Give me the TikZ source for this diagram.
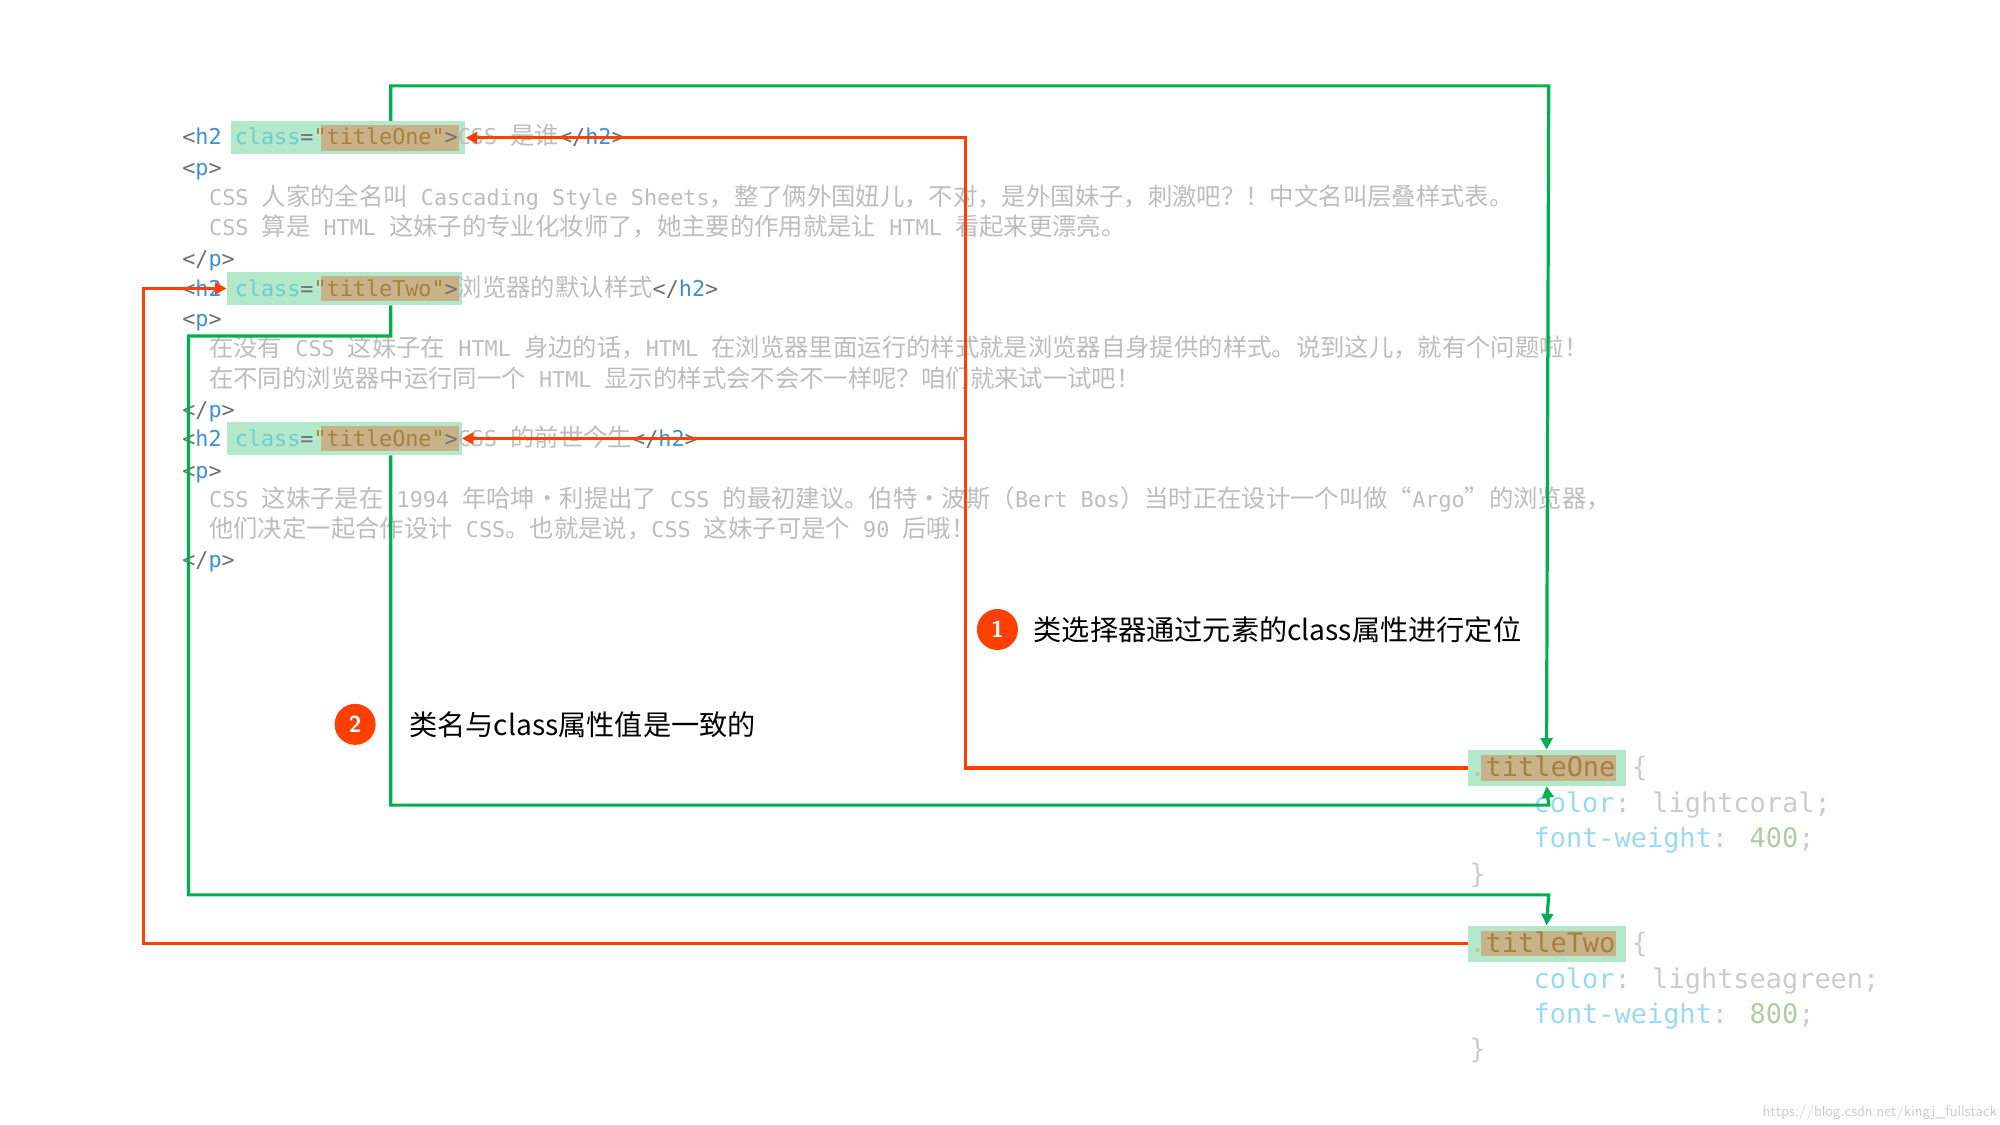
\documentclass[tikz,border=0pt]{standalone}
\usepackage{fontspec}
\usetikzlibrary{arrows.meta,calc}
\newfontfamily\codefont{DejaVu Sans Mono}
\newfontfamily\zhfont{Noto Sans CJK SC}
\definecolor{boxg}{HTML}{B3E8CA}
\definecolor{brn}{HTML}{C8B28A}
\definecolor{brt}{HTML}{A8803E}
\definecolor{tagc}{HTML}{707070}
\definecolor{blu}{HTML}{3D8FD6}
\definecolor{tea}{HTML}{6CCFCF}
\definecolor{gry}{HTML}{BDBDBD}
\definecolor{lgry}{HTML}{CCCCCC}
\definecolor{prop}{HTML}{9AD8F7}
\definecolor{num}{HTML}{B2CCA0}
\definecolor{redc}{HTML}{FF4000}
\definecolor{grnc}{HTML}{00B050}
\newcommand\zh[1]{{\zhfont\fontsize{19}{20}\selectfont #1}}
\newcommand\tgc[1]{\textcolor{tagc}{#1}}
\newcommand\tgb[1]{\textcolor{blu}{#1}}
\newcommand\tgl[1]{\textcolor{tea}{#1}}
\newcommand\tgt[1]{\textcolor{brt}{#1}}
\tikzset{
 code/.style={font=\codefont\fontsize{17}{20}\selectfont, inner sep=0, anchor=base west, text=gry},
 css/.style={font=\codefont\fontsize{21}{24}\selectfont, inner sep=0, anchor=base west},
 gbox/.style={fill=boxg, inner sep=0, draw=none},
 bbox/.style={fill=brn, inner sep=0, draw=none},
 rline/.style={draw=redc, line width=2.5pt},
 gline/.style={draw=grnc, line width=2.5pt},
 tip/.style={-{Triangle[length=9pt,width=9pt]}},
 callnum/.style={circle, fill=redc, text=white, minimum size=32pt, inner sep=0, font=\sffamily\bfseries\fontsize{18}{18}\selectfont},
 calltxt/.style={anchor=west, inner sep=0, font=\zhfont\fontsize{22}{24}\selectfont}
}
\begin{document}
\begin{tikzpicture}[x=1pt,y=-1pt]
\useasboundingbox[fill=white] (0,0) rectangle (1560,877.5);
% boxes
\node[gbox, minimum width=183pt, minimum height=26pt] (b1) at (271.5,107.5) {};
\node[bbox, minimum width=108pt, minimum height=20pt] (br1) at (304,107.5) {};
\node[gbox, minimum width=183pt, minimum height=26pt] (b2) at (268.5,225) {};
\node[bbox, minimum width=108pt, minimum height=20pt] (br2) at (304,225) {};
\node[gbox, minimum width=183pt, minimum height=26pt] (b3) at (268.5,342) {};
\node[bbox, minimum width=108pt, minimum height=20pt] (br3) at (304,342) {};
\node[gbox, minimum width=123pt, minimum height=28pt] (c1) at (1206.5,599) {};
\node[bbox, minimum width=105pt, minimum height=20pt] (cb1) at (1208,599) {};
\node[gbox, minimum width=123pt, minimum height=28pt] (c2) at (1206.5,736) {};
\node[bbox, minimum width=105pt, minimum height=20pt] (cb2) at (1208,736) {};
% code text
\node[code] (l1) at (142,113) {\tgc{<}\tgb{h2} \tgl{class}\tgc{=}\tgt{"titleOne"}\tgc{>}CSS \zh{是谁}\tgc{</}\tgb{h2}\tgc{>}};
\node[code] (l2) at (142,137) {\tgc{<}\tgb{p}\tgc{>}};
\node[code] (l3) at (163,160) {CSS \zh{人家的全名叫} Cascading Style Sheets\zh{，整了俩外国妞儿，不对，是外国妹子，刺激吧？！}\zh{中文名叫层叠样式表。}};
\node[code] (l4) at (163,184) {CSS \zh{算是} HTML \zh{这妹子的专业化妆师了，她主要的作用就是让} HTML \zh{看起来更漂亮。}};
\node[code] (l5) at (142,208) {\tgc{</}\tgb{p}\tgc{>}};
\node[code] (l6) at (142,231) {\tgc{<}\tgb{h2} \tgl{class}\tgc{=}\tgt{"titleTwo"}\tgc{>}\zh{浏览器的默认样式}\tgc{</}\tgb{h2}\tgc{>}};
\node[code] (l7) at (142,255) {\tgc{<}\tgb{p}\tgc{>}};
\node[code] (l8) at (163,278) {\zh{在没有} CSS \zh{这妹子在} HTML \zh{身边的话，}HTML \zh{在浏览器里面运行的样式就是浏览器自身提供的样式。说到这儿，就有个问题啦！}};
\node[code] (l9) at (163,302) {\zh{在不同的浏览器中运行同一个} HTML \zh{显示的样式会不会不一样呢？咱们就来试一试吧！}};
\node[code] (l10) at (142,326) {\tgc{</}\tgb{p}\tgc{>}};
\node[code] (l11) at (142,348) {\tgc{<}\tgb{h2} \tgl{class}\tgc{=}\tgt{"titleOne"}\tgc{>}CSS \zh{的前世今生}\tgc{</}\tgb{h2}\tgc{>}};
\node[code] (l12) at (142,373) {\tgc{<}\tgb{p}\tgc{>}};
\node[code] (l13) at (163,396) {CSS \zh{这妹子是在} 1994 \zh{年哈坤·利提出了} CSS \zh{的最初建议。伯特·波斯（}Bert Bos\zh{）}\zh{当时正在设计一个叫做“}Argo\zh{”的浏览器，}};
\node[code] (l14) at (163,419) {\zh{他们决定一起合作设计} CSS\zh{。也就是说，}CSS \zh{这妹子可是个} 90 \zh{后哦！}};
\node[code] (l15) at (142,443) {\tgc{</}\tgb{p}\tgc{>}};
% css text
\node[css] (s1) at (1146,606) {\textcolor{num}{.}\textcolor{brt}{titleOne} \textcolor{lgry}{\{}};
\node[css] (s2) at (1196,634) {\textcolor{prop}{color}\textcolor{lgry}{: lightcoral;}};
\node[css] (s3) at (1196,661) {\textcolor{prop}{font-weight}\textcolor{lgry}{: }\textcolor{num}{400}\textcolor{lgry}{;}};
\node[css] (s4) at (1146,689) {\textcolor{lgry}{\}}};
\node[css] (t1) at (1146,743) {\textcolor{num}{.}\textcolor{brt}{titleTwo} \textcolor{lgry}{\{}};
\node[css] (t2) at (1196,771) {\textcolor{prop}{color}\textcolor{lgry}{: lightseagreen;}};
\node[css] (t3) at (1196,798) {\textcolor{prop}{font-weight}\textcolor{lgry}{: }\textcolor{num}{800}\textcolor{lgry}{;}};
\node[css] (t4) at (1146,826) {\textcolor{lgry}{\}}};
% connectors
\coordinate (g1a) at ($(b1.north west)+(125,0)$);
\coordinate (g2a) at ($(b2.south west)+(128,0)$);
\coordinate (g3a) at ($(b3.south west)+(128,0)$);
\draw[gline,tip] (g1a) -- (g1a |- 0,67) -- (1208,67) -- ($(c1.north west)+(61.5,0)$);
\draw[rline,tip] (c1.west) -- (753,599) -- (753,107.5) -- (b1.east);
\draw[rline,tip] (753,342) -- (b3.east);
\draw[gline,tip] (g3a) -- (g3a |- 0,628) -- (1208,628) -- ($(c1.south west)+(61.5,0)$);
\draw[gline,tip] (g2a) -- (g2a |- 0,262) -- (147,262) -- (147,698) -- (1208,698) -- ($(c2.north west)+(61.5,0)$);
\draw[rline,tip] (c2.west) -- (112,736) -- (112,225) -- (b2.west);
% callouts
\node[callnum] (n1) at (778,491) {1};
\node[calltxt] (k1) at (806,491) {类选择器通过元素的class属性进行定位};
\node[callnum] (n2) at (277,565) {2};
\node[calltxt] (k2) at (319,565) {类名与class属性值是一致的};
\node[anchor=south east, inner sep=0, text=lgry, font=\sffamily\fontsize{12}{12}\selectfont] (wm) at (1558,874) {https://blog.csdn.net/kingj\_fullstack};
\end{tikzpicture}
\end{document}
